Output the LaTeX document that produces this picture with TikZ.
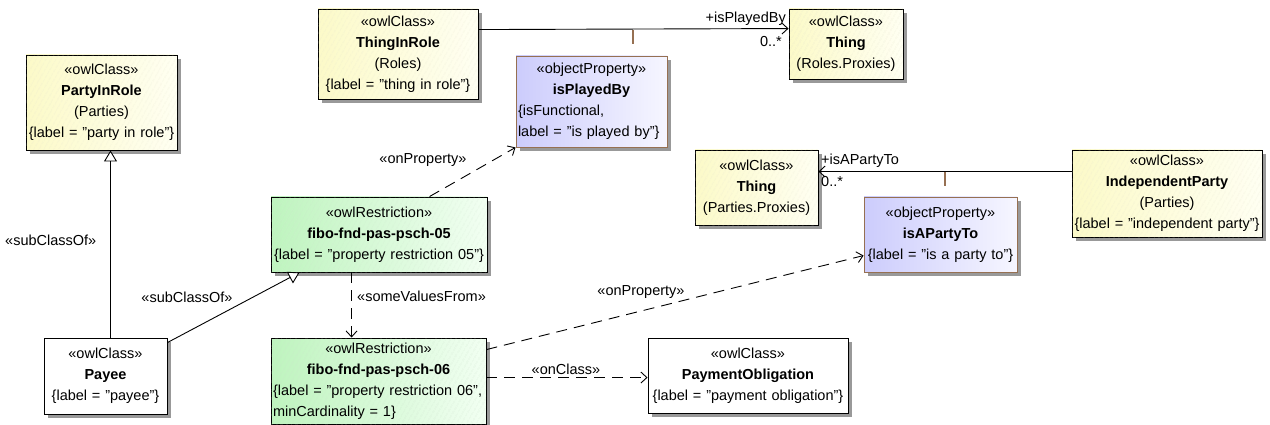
\documentclass[tikz,border=0pt]{standalone}
\usepackage{fontspec}
\setmainfont{Liberation Sans}
\usetikzlibrary{arrows.meta,calc,shadows,patterns.meta}
\definecolor{ylA}{RGB}{252,250,200}
\definecolor{ylB}{RGB}{255,255,242}
\definecolor{lvA}{RGB}{204,204,252}
\definecolor{lvB}{RGB}{246,246,255}
\definecolor{grA}{RGB}{190,244,190}
\definecolor{grB}{RGB}{242,255,242}
\definecolor{brn}{RGB}{150,112,82}
\definecolor{hatch}{RGB}{228,225,205}
\tikzset{
  base/.style={draw=black, line width=0.9pt, inner sep=2pt, align=center,
    font=\fontsize{14.5}{21}\selectfont,
    drop shadow={shadow xshift=4pt, shadow yshift=-4pt, fill=black!40, opacity=1}},
  ycls/.style={base, left color=ylA, right color=ylB,
    postaction={pattern={Lines[angle=60,distance=4pt,line width=0.4pt]}, pattern color=hatch}},
  wcls/.style={base, fill=white},
  oprop/.style={base, draw=brn, left color=lvA, right color=lvB},
  restr/.style={base, left color=grA, right color=grB,
    postaction={pattern={Lines[angle=60,distance=4pt,line width=0.4pt]}, pattern color=grA!70!gray!60}},
  lbl/.style={font=\fontsize{14.5}{16}\selectfont, inner sep=1pt},
  assoc/.style={draw=black, line width=0.9pt, -{Straight Barb[length=6pt,width=11pt]}},
  dep/.style={assoc, dash pattern=on 11pt off 7pt},
  gen/.style={draw=black, line width=0.9pt, -{Triangle[open,length=11pt,width=13pt,fill=white]}},
  tick/.style={draw=brn, line width=1.2pt}
}
\begin{document}
\begin{tikzpicture}[x=1pt,y=-1pt]
\useasboundingbox (0,0) rectangle (1270,425);

% boxes
\node[ycls, minimum width=151, minimum height=95, text width=147] (pir) at (101.5,102.5)
  {«owlClass»\\\textbf{PartyInRole}\\(Parties)\\\{label = "party in role"\}};
\node[ycls, minimum width=160, minimum height=90, text width=156] (tir) at (398,54)
  {«owlClass»\\\textbf{ThingInRole}\\(Roles)\\\{label = "thing in role"\}};
\node[ycls, minimum width=114, minimum height=70, text width=110] (thr) at (846,44)
  {«owlClass»\\\textbf{Thing}\\(Roles.Proxies)};
\node[oprop, minimum width=151, minimum height=91, text width=147] (ipb) at (591.5,101.5)
  {«objectProperty»\\\textbf{isPlayedBy}\\\makebox[\linewidth][l]{\{isFunctional,}\\\makebox[\linewidth][l]{label = "is played by"\}}};
\node[ycls, minimum width=123, minimum height=75, text width=119] (thp) at (756.5,187.5)
  {«owlClass»\\\textbf{Thing}\\(Parties.Proxies)};
\node[oprop, minimum width=153, minimum height=75, text width=149] (ipt) at (940.5,234.5)
  {«objectProperty»\\\textbf{isAPartyTo}\\\{label = "is a party to"\}};
\node[ycls, minimum width=190, minimum height=87, text width=186] (ip) at (1167,193.5)
  {«owlClass»\\\textbf{IndependentParty}\\(Parties)\\\{label = "independent party"\}};
\node[restr, minimum width=216, minimum height=75, text width=212] (f5) at (379,234.5)
  {«owlRestriction»\\\textbf{fibo-fnd-pas-psch-05}\\\{label = "property restriction 05"\}};
\node[restr, minimum width=215, minimum height=86, text width=211] (f6) at (378.5,381)
  {«owlRestriction»\\\textbf{fibo-fnd-pas-psch-06}\\\makebox[\linewidth][l]{\{label = "property restriction 06",}\\\makebox[\linewidth][l]{minCardinality = 1\}}};
\node[wcls, minimum width=123, minimum height=76, text width=119] (payee) at (105.5,376)
  {«owlClass»\\\textbf{Payee}\\\{label = "payee"\}};
\node[wcls, minimum width=200, minimum height=75, text width=196] (po) at (748,375.5)
  {«owlClass»\\\textbf{PaymentObligation}\\\{label = "payment obligation"\}};

% associations
\draw[assoc] ([yshift=-21pt]tir.north east) -- ([yshift=-20pt]thr.north west);
\draw[assoc] ([yshift=-22pt]ip.north west) -- ([yshift=-22pt]thp.north east);
\coordinate (t1) at (633,30);
\coordinate (t2) at (945,172);
\draw[tick] (t1) -- ++(0,14);
\draw[tick] (t2) -- ++(0,14);
\node[lbl, anchor=south east] (l1) at (787,27) {+isPlayedBy};
\node[lbl, anchor=north east] (l2) at (783,35) {0..*};
\node[lbl, anchor=south west] (l3) at (820,169) {+isAPartyTo};
\node[lbl, anchor=north west] (l4) at (820,175) {0..*};

% generalizations
\coordinate (gx) at (110.5,0);
\draw[gen] (payee.north -| gx) -- (pir.south -| gx);
\draw[gen] ([yshift=-5pt]payee.north east) -- ($(f5.south west)+(29,0)$);
\node[lbl, anchor=west] (s1) at (4,240) {«subClassOf»};
\node[lbl] (s2) at (187,297) {«subClassOf»};

% dependencies
\draw[dep] ($(f5.north west)+(159,0)$) -- (ipb.south west);
\node[lbl] (d1) at (423,160) {«onProperty»};
\draw[dep] ($(f5.south west)+(81,0)$) -- ($(f6.north west)+(81,0)$);
\node[lbl, anchor=west] (d2) at (356,296) {«someValuesFrom»};
\draw[dep] ([yshift=-12pt]f6.north east) -- ([yshift=-59pt]ipt.north west);
\node[lbl] (d3) at (641,292) {«onProperty»};
\draw[dep] ([yshift=-40pt]f6.north east) -- ([yshift=-40pt]po.north west);
\node[lbl] (d4) at (566,369) {«onClass»};
\end{tikzpicture}
\end{document}
